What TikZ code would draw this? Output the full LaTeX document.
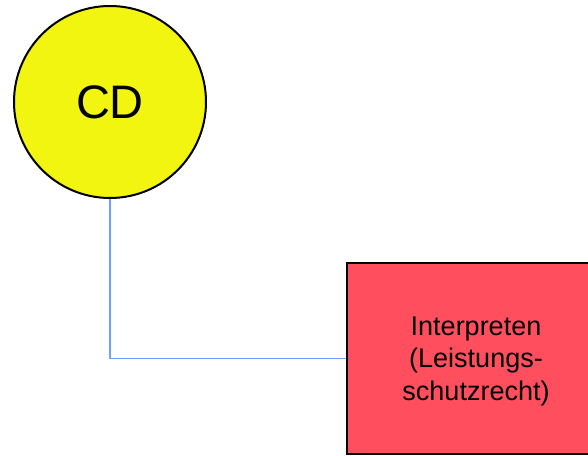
\documentclass[tikz,border=0pt]{standalone}
\usepackage{fontspec}
\setmainfont{Liberation Sans}
\definecolor{cdyellow}{HTML}{F2F50F}
\definecolor{boxred}{HTML}{FF4F5F}
\definecolor{linkblue}{HTML}{6F9FFF}
\begin{document}
\begin{tikzpicture}[x=1pt,y=-1pt,
  disc/.style={circle, draw=black, line width=2pt, fill=cdyellow, minimum size=192pt, inner sep=0pt, font=\fontsize{47}{54}\selectfont},
  panel/.style={rectangle, draw=black, line width=2pt, fill=boxred, minimum width=258pt, minimum height=191pt, inner sep=0pt, align=center, font=\fontsize{27}{32.5}\selectfont},
  link/.style={draw=linkblue, line width=1.8pt}]
\useasboundingbox (0,0) rectangle (588,455);
\begin{scope}
\clip (0,0) rectangle (588,455);
\node[disc] (cd) at (110,102) {CD};
\node[panel] (interp) at (476,358.5) {};
\node[align=center, font=\fontsize{27}{32.5}\selectfont, inner sep=0pt] (interptext) at ([yshift=-3pt]interp.center) {Interpreten\\(Leistungs-\\schutzrecht)};
\draw[link] (cd.south) |- (interp.west);
\end{scope}
\end{tikzpicture}
\end{document}
